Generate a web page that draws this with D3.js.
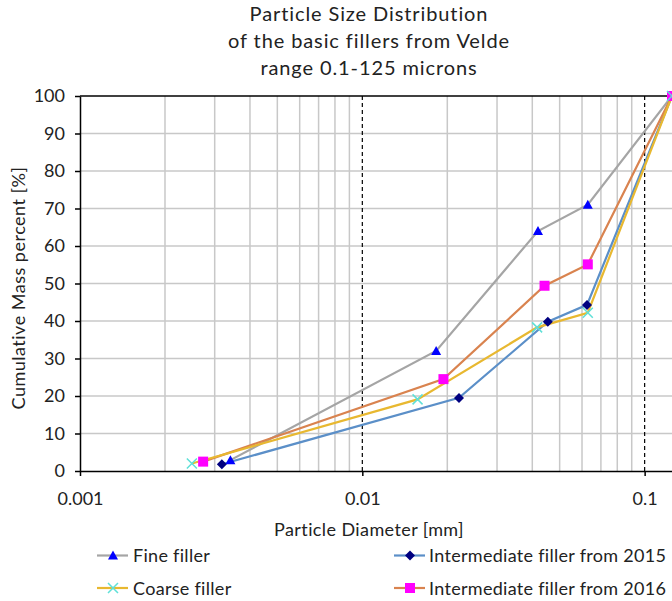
<!doctype html>
<html lang="en">
  <head>
    <meta charset="utf-8">
    <title>Particle Size Distribution</title>
    <script src="https://d3js.org/d3.v7.min.js"></script>
    <style>
      body { margin: 0; background: #fff; }
      svg { display: block; font-family: Lato, "Open Sans", sans-serif; }
    </style>
  </head>
  <body>
    <div class="chart-container"></div>
    <script type="text/javascript">
    // Data: [diameter mm, cumulative mass %]
    const fineFiller = [[0.00341, 2.9], [0.01826, 32], [0.0419, 64], [0.0629, 71], [0.125, 100]];
    const intermediate2015 = [[0.00318, 1.8], [0.0220, 19.5], [0.0454, 39.8], [0.0625, 44.3], [0.125, 100]];
    const coarseFiller = [[0.00249, 2.0], [0.01569, 19.1], [0.0416, 38.3], [0.0629, 42.2], [0.125, 100]];
    const intermediate2016 = [[0.00273, 2.5], [0.01938, 24.5], [0.0442, 49.4], [0.0629, 55.1], [0.125, 100]];

    const seriesNames = ["Fine filler", "Intermediate filler from 2015", "Coarse filler", "Intermediate filler from 2016"];
    const xTickLabels = ["0.001", "0.01", "0.1"];
    const yTicks = [0, 10, 20, 30, 40, 50, 60, 70, 80, 90, 100];
    const titleLines = ["Particle Size Distribution", "of the basic fillers from Velde", "range 0.1-125 microns"];

    const series = [
      {name: seriesNames[0], values: fineFiller, line: "#a5a5a5", marker: "#0000ff", shape: "triangle"},
      {name: seriesNames[1], values: intermediate2015, line: "#5b8fc8", marker: "#000080", shape: "diamond"},
      {name: seriesNames[2], values: coarseFiller, line: "#e8b830", marker: "#5fe0d8", shape: "cross"},
      {name: seriesNames[3], values: intermediate2016, line: "#d9834f", marker: "#ff00ff", shape: "square"}
    ];

    var width = 672,
        height = 601,
        margin = {top: 96, right: 0, bottom: 130, left: 80};

    const svg = d3.select(".chart-container")
      .append("svg")
      .attr("width", width)
      .attr("height", height);

    const x = d3.scaleLog()
      .domain([0.001, 0.125])
      .range([margin.left, width - margin.right]);

    const y = d3.scaleLinear()
      .domain([0, 100])
      .range([height - margin.bottom, margin.top]);

    // Title
    svg.append("g")
      .selectAll("text")
      .data(titleLines)
      .join("text")
      .attr("x", 369)
      .attr("y", (d, i) => [21, 48, 75][i])
      .attr("text-anchor", "middle")
      .attr("font-size", 20)
      .attr("letter-spacing", 0.9)
      .attr("fill", "#222")
      .text(d => d);

    // Vertical grid lines (minor, log)
    const minorTicks = x.ticks().filter(t => {
      const m = t / Math.pow(10, Math.floor(Math.log10(t) + 1e-9));
      return Math.abs(m - 1) > 1e-6;
    });
    svg.append("g")
      .attr("stroke", "#c8c8c8")
      .attr("stroke-width", 1.5)
      .selectAll("line")
      .data(minorTicks)
      .join("line")
      .attr("x1", d => x(d)).attr("x2", d => x(d))
      .attr("y1", y(0)).attr("y2", y(100));

    // Horizontal grid lines
    svg.append("g")
      .attr("stroke", "#c8c8c8")
      .attr("stroke-width", 1.5)
      .selectAll("line")
      .data(yTicks.filter(d => d > 0 && d < 100))
      .join("line")
      .attr("x1", x.range()[0]).attr("x2", x.range()[1])
      .attr("y1", d => y(d)).attr("y2", d => y(d));

    // Major decade lines dashed
    svg.append("g")
      .attr("stroke", "#000")
      .attr("stroke-width", 1.2)
      .attr("stroke-dasharray", "4,3")
      .selectAll("line")
      .data(xTickLabels.map(Number).filter(d => d > 0.001))
      .join("line")
      .attr("x1", d => x(d)).attr("x2", d => x(d))
      .attr("y1", y(0)).attr("y2", y(100));

    // Top border
    svg.append("line")
      .attr("x1", x.range()[0]).attr("x2", x.range()[1])
      .attr("y1", y(100)).attr("y2", y(100))
      .attr("stroke", "#000").attr("stroke-width", 1.5);

    // Axes
    const xAxis = svg.append("g")
      .attr("transform", `translate(0,${y(0)})`)
      .call(d3.axisBottom(x).tickValues(xTickLabels.map(Number)).tickFormat((d, i) => xTickLabels[i]).tickSizeInner(5).tickSizeOuter(0).tickPadding(16));
    xAxis.select(".domain").attr("stroke", "#000").attr("stroke-width", 1.5);
    xAxis.selectAll(".tick line").attr("stroke", "#000").attr("stroke-width", 1.5);
    xAxis.selectAll("text").attr("font-size", 18).attr("fill", "#222").style("font-family", "Lato, sans-serif");

    const yAxis = svg.append("g")
      .attr("transform", `translate(${x.range()[0]},0)`)
      .call(d3.axisLeft(y).tickValues(yTicks).tickSizeInner(5).tickSizeOuter(0).tickPadding(10));
    yAxis.select(".domain").attr("stroke", "#000").attr("stroke-width", 1.5);
    yAxis.selectAll(".tick line").attr("stroke", "#000").attr("stroke-width", 1.5);
    yAxis.selectAll("text").attr("font-size", 18).attr("fill", "#222").style("font-family", "Lato, sans-serif");

    // Axis titles
    svg.append("text")
      .attr("x", 369).attr("y", 536)
      .attr("text-anchor", "middle")
      .attr("font-size", 18)
      .attr("letter-spacing", 0.4)
      .attr("fill", "#222")
      .text("Particle Diameter [mm]");

    svg.append("text")
      .attr("transform", `translate(25,288) rotate(-90)`)
      .attr("text-anchor", "middle")
      .attr("font-size", 18)
      .attr("letter-spacing", 0.5)
      .attr("fill", "#222")
      .text("Cumulative Mass percent [%]");

    // Markers
    function drawMarker(g, s, cx, cy) {
      if (s.shape === "triangle") {
        g.append("path").attr("d", `M${cx},${cy - 5}L${cx + 5},${cy + 4}L${cx - 5},${cy + 4}Z`).attr("fill", s.marker);
      } else if (s.shape === "diamond") {
        g.append("path").attr("d", `M${cx},${cy - 5}L${cx + 5},${cy}L${cx},${cy + 5}L${cx - 5},${cy}Z`).attr("fill", s.marker);
      } else if (s.shape === "square") {
        g.append("rect").attr("x", cx - 5).attr("y", cy - 5).attr("width", 10).attr("height", 10).attr("fill", s.marker);
      } else {
        g.append("path").attr("d", `M${cx - 5},${cy - 5}L${cx + 5},${cy + 5}M${cx - 5},${cy + 5}L${cx + 5},${cy - 5}`)
          .attr("stroke", s.marker).attr("stroke-width", 1.5).attr("fill", "none");
      }
    }

    const line = d3.line().x(d => x(d[0])).y(d => y(d[1]));

    // Draw order so the orange/gold sit on top like the original
    const drawOrder = [0, 1, 3, 2];
    drawOrder.forEach(i => {
      const s = series[i];
      svg.append("path")
        .datum(s.values)
        .attr("d", line)
        .attr("fill", "none")
        .attr("stroke", s.line)
        .attr("stroke-width", 2.2);
    });
    drawOrder.forEach(i => {
      const s = series[i];
      const g = svg.append("g");
      s.values.forEach(d => drawMarker(g, s, x(d[0]), y(d[1])));
    });

    // Legend
    const legendPos = [[97, 555.5], [394, 555.5], [97, 588], [394, 588]];
    series.forEach((s, i) => {
      const [lx, ly] = legendPos[i];
      const g = svg.append("g");
      g.append("line")
        .attr("x1", lx).attr("x2", lx + 31)
        .attr("y1", ly).attr("y2", ly)
        .attr("stroke", s.line).attr("stroke-width", 2.2);
      drawMarker(g, s, lx + 16, ly);
      g.append("text")
        .attr("x", lx + (i % 2 ? 35 : 36)).attr("y", ly + 6.5)
        .attr("font-size", 18)
        .attr("letter-spacing", 0.3)
        .attr("fill", "#222")
        .text(s.name);
    });
    </script>
  </body>
</html>
